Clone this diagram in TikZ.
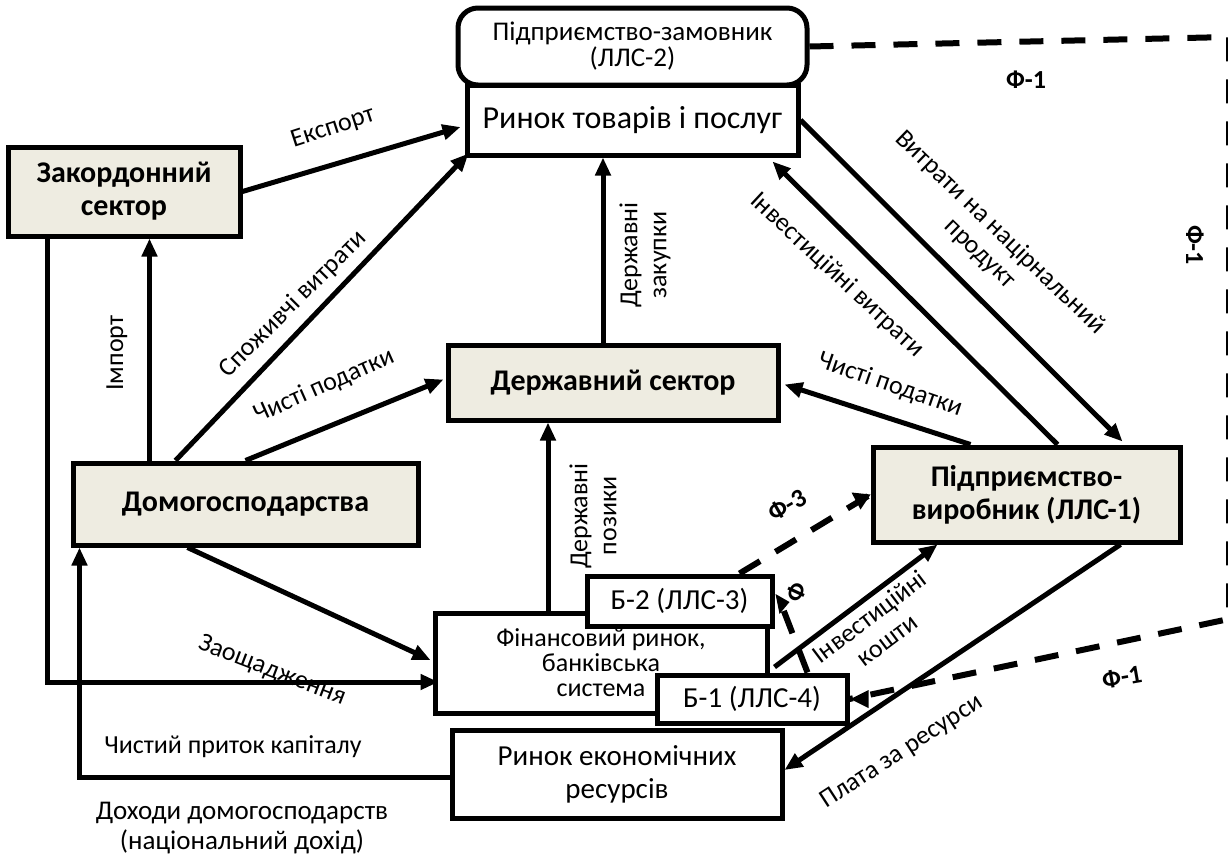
\documentclass[tikz,border=0pt]{standalone}
\usepackage{fontspec}
\setmainfont{Carlito}
\usetikzlibrary{arrows.meta,calc}
\definecolor{sectorfill}{HTML}{EEECE1}

\begin{document}
\begin{tikzpicture}[
        x=0.5pt, y=-0.5pt,
        sector/.style={draw, line width=2.5pt, fill=sectorfill, align=center, inner sep=0pt, font=\fontsize{15}{16.5}\selectfont\bfseries},
        market/.style={draw, line width=2.5pt, fill=white, align=center, inner sep=0pt},
        flow_edge/.style={line width=2.5pt, -{Triangle[length=9pt,width=7.5pt]}},
        phi_edge/.style={line width=3pt, dash pattern=on 12pt off 9pt},
        flow_label/.style={font=\fontsize{13}{14.5}\selectfont, align=center, inner sep=0pt},
        phi_label/.style={font=\fontsize{13}{15}\selectfont\bfseries, inner sep=0pt}
    ]
    \useasboundingbox (0,0) rectangle (1228,857);

    % Ринки (білі прямокутники)
    \node[market, minimum width=165.5pt, minimum height=35pt, font=\fontsize{16}{18}\selectfont] (rtp) at (632.5,120) {Ринок товарів і послуг};
    \node[market, rounded corners=10pt, minimum width=174.5pt, minimum height=38.5pt, font=\fontsize{13.5}{13}\selectfont] (zam) at (632.5,46.5) {Підприємство-замовник\\(ЛЛС-2)};
    \node[market, minimum width=166pt, minimum height=50pt, font=\fontsize{13}{12.5}\selectfont] (fin) at (601,663) {Фінансовий ринок,\\банківська\\система};
    \node[market, minimum width=92.5pt, minimum height=25pt, font=\fontsize{14.5}{18}\selectfont] (b2) at (679.5,601) {Б-2 (ЛЛС-3)};
    \node[market, minimum width=95pt, minimum height=24pt, font=\fontsize{14.5}{18}\selectfont] (b1) at (752,699) {Б-1 (ЛЛС-4)};
    \node[market, minimum width=165pt, minimum height=44pt, font=\fontsize{14.5}{16.5}\selectfont] (res) at (617,774) {Ринок економічних\\ресурсів};

    % Сектори економіки (заливка)
    \node[sector, minimum width=116pt, minimum height=44.5pt] (zak) at (124,191.5) {Закордонний\\сектор};
    \node[sector, minimum width=165pt, minimum height=37.5pt] (derzh) at (613,382.5) {Державний сектор};
    \node[sector, minimum width=172.5pt, minimum height=41pt] (dom) at (245.5,504) {Домогосподарства};
    \node[sector, minimum width=153.5pt, minimum height=47.5pt] (vyr) at (1026.5,494.5) {Підприємство-\\виробник (ЛЛС-1)};

    % Потоки домогосподарств і закордонного сектору
    \draw[flow_edge] (zak.east) -- ($(rtp.west)+(-4,7)$);
    \draw[flow_edge] ($(dom.north west)+(105,0)$) -- ($(rtp.south west)+(4,-4)$);
    \draw[flow_edge] ($(dom.north west)+(79,0)$) -- ($(zak.south west)+(144,0)$);
    \draw[flow_edge] ($(dom.north west)+(175,0)$) -- ($(derzh.west)+(-2,-3)$);
    \draw[flow_edge] ($(zak.south west)+(42,0)$) |- ($(fin.west)+(6,19)$);
    \draw[flow_edge] ($(res.west)+(0,3)$) -| ($(dom.south west)+(9,0)$);
    \draw[flow_edge] ($(dom.south west)+(117,0)$) -- ($(fin.west)+(-2,-3)$);

    % Потоки держави
    \draw[flow_edge] ($(derzh.north)+(-10,0)$) -- ($(rtp.south)+(-29.5,0)$);
    \draw[flow_edge] ($(fin.north)+(-53,0)$) -- ($(derzh.south)+(-65,0)$);

    % Потоки підприємства-виробника
    \draw[flow_edge] ($(vyr.north west)+(187,0)$) -- ($(rtp.south east)+(-28,4)$);
    \draw[flow_edge] (rtp.east) -- ($(vyr.north west)+(252,-3)$);
    \draw[flow_edge] ($(vyr.north west)+(100,0)$) -- ($(derzh.east)+(4,2)$);
    \draw[flow_edge] ($(fin.east)+(5,4)$) -- ($(vyr.south west)+(67,0)$);
    \draw[flow_edge] ($(vyr.south west)+(250,0)$) -- ($(res.east)+(0,-4)$);

    % Пунктирні зв'язки Ф
    \coordinate (f1_top) at (1229,37);
    \coordinate (f1_bot) at (1229,619);
    \draw[phi_edge] (zam.east) -- (f1_top) -- (f1_bot) -- (b1.east);
    \draw[phi_edge] ($(b2.north west)+(155,0)$) -- (vyr.west);
    \draw[phi_edge] ($(b1.north west)+(153,0)$) -- ($(b2.east)+(4,-4)$);
    \fill ($(b1.east)+(1,0)$) -- ++(18,-9) -- ++(0,18) -- cycle;
    \fill (vyr.west) -- ++(-19,-2) -- ++(9,17) -- cycle;
    \fill ($(b2.east)+(1,-7)$) -- ++(14,8) -- ++(-10,12) -- cycle;

    % Підписи потоків
    \node[flow_label, rotate=18] (l_export) at (333,128) {Експорт};
    \node[flow_label, rotate=45] (l_cons) at (293,304) {Споживчі витрати};
    \node[flow_label, rotate=90] (l_import) at (117,353) {Імпорт};
    \node[flow_label, rotate=24] (l_tax_dom) at (324,386) {Чисті податки};
    \node[flow_label, rotate=-21] (l_save) at (272,671) {Заощадження};
    \node[flow_label] (l_capital) at (233,747) {Чистий приток капіталу};
    \node[flow_label, font=\fontsize{13.5}{15}\selectfont] (l_income) at (242,828) {Доходи домогосподарств\\(національний дохід)};
    \node[flow_label, rotate=90] (l_purch) at (645,255) {Державні\\закупки};
    \node[flow_label, rotate=90] (l_loans) at (593,516) {Державні\\позики};
    \node[flow_label, rotate=-43] (l_inv) at (837,275) {Інвестиційні витрати};
    \node[flow_label, rotate=-44] (l_nat) at (990,243) {Витрати на націрнальний\\продукт};
    \node[flow_label, rotate=-19] (l_tax_vyr) at (890,385) {Чисті податки};
    \node[flow_label, rotate=37] (l_funds) at (878,628) {Інвестиційні\\кошти};
    \node[flow_label, rotate=33] (l_pay) at (902,752) {Плата за ресурси};

    % Підписи Ф
    \node[phi_label] (p_top) at (1026,80) {Ф-1};
    \node[phi_label, rotate=-90] (p_right) at (1195,245) {Ф-1};
    \node[phi_label, rotate=10] (p_bot) at (1122,677) {Ф-1};
    \node[phi_label, rotate=30] (p_three) at (787,505) {Ф-3};
    \node[phi_label, rotate=65] (p_small) at (797,592) {Ф};

\end{tikzpicture}
\end{document}
